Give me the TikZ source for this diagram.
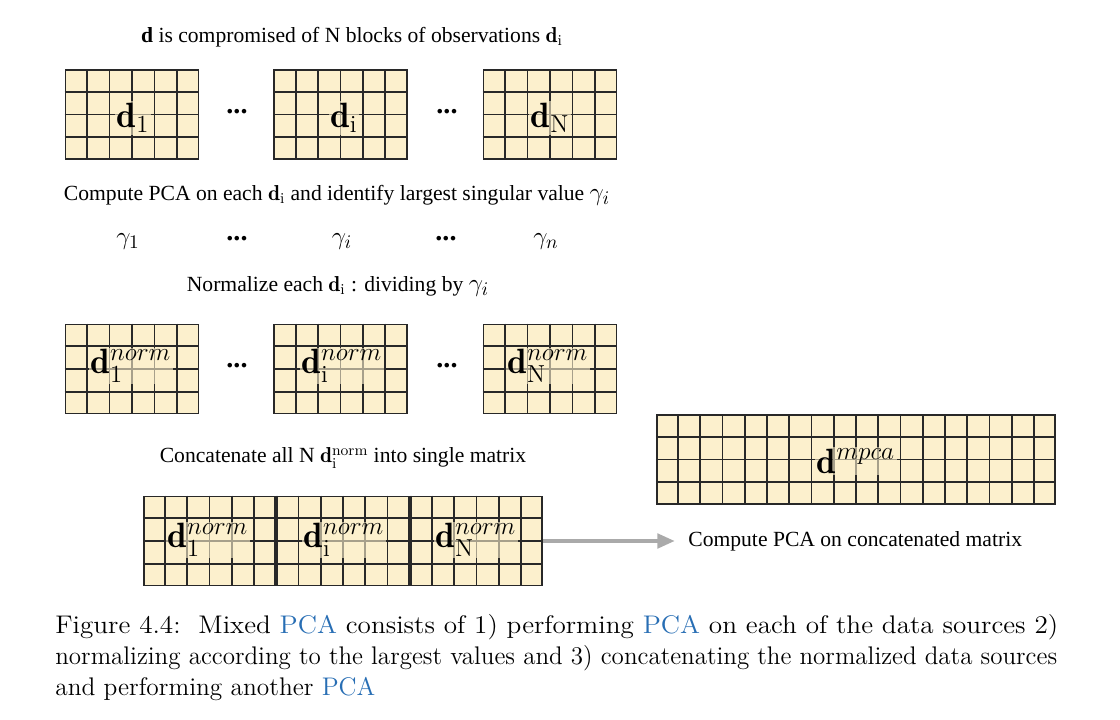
\documentclass[tikz,border=0pt]{standalone}
\usepackage{fontspec}
\usepackage{graphicx}
\usetikzlibrary{arrows.meta,calc}
\newfontfamily\figfont{Liberation Serif}
\definecolor{cellfill}{RGB}{252,240,205}
\definecolor{cellline}{RGB}{40,40,40}
\definecolor{linkblue}{RGB}{40,110,180}
\definecolor{arrowgray}{RGB}{170,170,170}
\newcommand{\biggam}[1]{{\fontsize{15}{17}\selectfont$\gamma_#1$}}
\tikzset{
  datablock/.style={draw=cellline, fill=cellfill, line width=1pt, inner sep=0pt, minimum height=1.78cm},
  cellrule/.style={draw=cellline, line width=1pt},
  blocklabel/.style={fill=cellfill, fill opacity=0.6, text opacity=1, inner sep=1pt, font=\figfont\fontsize{20}{22}\selectfont},
  steptext/.style={font=\figfont\fontsize{12.3}{15}\selectfont},
  gammatext/.style={font=\figfont\fontsize{15}{17}\selectfont},
  sepdots/.style={font=\figfont\bfseries\fontsize{16}{18}\selectfont},
  captionline/.style={anchor=base west, inner sep=0pt, font=\fontsize{14.5}{17}\selectfont},
}
% block of cells: name, centre, number of columns
\newcommand{\cellgrid}[3]{%
  \node[datablock, minimum width=#3*0.443cm] (#1) at (#2) {};
  \pgfmathtruncatemacro{\lastcol}{#3-1}
  \foreach \c in {1,...,\lastcol}
    \draw[cellrule] ($(#1.north west)!\c/#3!(#1.north east)$) -- ($(#1.south west)!\c/#3!(#1.south east)$);
  \foreach \r in {1,2,3}
    \draw[cellrule] ($(#1.north west)!\r/4!(#1.south west)$) -- ($(#1.north east)!\r/4!(#1.south east)$);
}
\begin{document}
\begin{tikzpicture}[x=0.02cm, y=-0.02cm]
  \useasboundingbox (0,0) rectangle (1120,720);

  % blocks of observations
  \node[steptext] (title) at (352,37) {\textbf{d} is compromised of N blocks of observations $\mathbf{d}_{\mathrm{i}}$};
  \cellgrid{g1}{132,114.5}{6}
  \cellgrid{gi}{340.5,114.5}{6}
  \cellgrid{gN}{550,114.5}{6}
  \node[blocklabel] (d1) at (133,118) {$\mathbf{d}_{\mathrm{1}}$};
  \node[blocklabel] (di) at (344,118) {$\mathbf{d}_{\mathrm{i}}$};
  \node[blocklabel] (dN) at (550,118) {$\mathbf{d}_{\mathrm{N}}$};
  \node[sepdots] (dotsa) at (237,112) {...};
  \node[sepdots] (dotsb) at (447,112) {...};

  % largest singular values
  \node[steptext] (pcaeach) at (337,195) {Compute PCA on each $\mathbf{d}_{\mathrm{i}}$ and identify largest singular value \biggam{i}};
  \node[gammatext] (gam1) at (128,242) {$\gamma_1$};
  \node[sepdots] (dotsc) at (237,239) {...};
  \node[gammatext] (gami) at (342,242) {$\gamma_i$};
  \node[sepdots] (dotsd) at (446,239) {...};
  \node[gammatext] (gamn) at (546,242) {$\gamma_n$};
  \node[steptext] (normeach) at (338,286) {Normalize each $\mathbf{d}_{\mathrm{i}}$ : dividing by \biggam{i}};

  % normalized blocks
  \cellgrid{n1}{132,369}{6}
  \cellgrid{ni}{340.5,369}{6}
  \cellgrid{nN}{550,369}{6}
  \node[blocklabel] (dn1) at (131,366) {$\mathbf{d}^{norm}_{\mathrm{1}}$};
  \node[blocklabel] (dni) at (342,366) {$\mathbf{d}^{norm}_{\mathrm{i}}$};
  \node[blocklabel] (dnN) at (548,366) {$\mathbf{d}^{norm}_{\mathrm{N}}$};
  \node[sepdots] (dotse) at (237,366) {...};
  \node[sepdots] (dotsf) at (447,366) {...};

  % concatenation
  \node[steptext] (concat) at (343,458) {Concatenate all N $\mathbf{d}_{\mathrm{i}}^{\mathrm{norm}}$ into single matrix};
  \cellgrid{catm}{343,541}{18}
  \draw[cellline, line width=2.2pt] ($(catm.north west)!1/3!(catm.north east)$) -- ($(catm.south west)!1/3!(catm.south east)$);
  \draw[cellline, line width=2.2pt] ($(catm.north west)!2/3!(catm.north east)$) -- ($(catm.south west)!2/3!(catm.south east)$);
  \node[blocklabel] (dc1) at (208,540) {$\mathbf{d}^{norm}_{\mathrm{1}}$};
  \node[blocklabel] (dci) at (344,540) {$\mathbf{d}^{norm}_{\mathrm{i}}$};
  \node[blocklabel] (dcN) at (476,540) {$\mathbf{d}^{norm}_{\mathrm{N}}$};

  % mixed pca
  \cellgrid{mpca}{856,459.5}{18}
  \node[blocklabel] (dm) at (856,461) {$\mathbf{d}^{mpca}$};
  \node[steptext, anchor=west, inner sep=0pt] (pcacat) at (688,541) {Compute PCA on concatenated matrix};
  \draw[arrowgray, line width=2.6pt, -{Triangle[length=10pt,width=8pt]}, shorten >=0.26cm] (catm.east) -- (pcacat.west);

  % caption
  \node[captionline] (cap1) at (55,633) {\resizebox{20.06cm}{\height}{Figure 4.4:\ \ Mixed \textcolor{linkblue}{PCA} consists of 1) performing \textcolor{linkblue}{PCA} on each of the data sources 2)}};
  \node[captionline] (cap2) at (55,664) {\resizebox{20.04cm}{\height}{normalizing according to the largest values and 3) concatenating the normalized data sources}};
  \node[captionline] (cap3) at (55,695) {\resizebox{6.4cm}{\height}{and performing another \textcolor{linkblue}{PCA}}};
\end{tikzpicture}
\end{document}
